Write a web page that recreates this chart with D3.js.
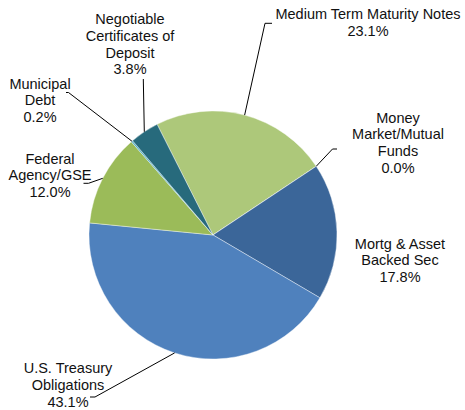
<!DOCTYPE html>
<html lang="en">
  <head>
    <meta charset="utf-8">
    <title>Portfolio pie</title>
    <script src="https://d3js.org/d3.v7.min.js"></script>
    <style>
      body { margin: 0; background: #fff; }
      text { font-family: "Liberation Sans", Arial, sans-serif; font-size: 14.5px; fill: #111; }
    </style>
  </head>
  <body>
    <svg id="pie"></svg>
    <script>
      // 1) data
      let categories = ["Medium Term Maturity Notes", "Money Market/Mutual Funds", "Mortg & Asset Backed Sec",
                        "U.S. Treasury Obligations", "Federal Agency/GSE", "Municipal Debt",
                        "Negotiable Certificates of Deposit"];
      let values = [23.1, 0.0, 17.8, 43.1, 12.0, 0.2, 3.8];
      let labelLines = [
        ["Medium Term Maturity Notes"],
        ["Money", "Market/Mutual", "Funds"],
        ["Mortg & Asset", "Backed Sec"],
        ["U.S. Treasury", "Obligations"],
        ["Federal", "Agency/GSE"],
        ["Municipal", "Debt"],
        ["Negotiable", "Certificates of", "Deposit"]
      ];
      let colors = ["#adc87a", "#3a6699", "#3b6699", "#4f81bd", "#9bbb59", "#4bacc6", "#276a7c"];

      // 2) layout vars
      let svgW = 465, svgH = 410, cx = 213, cy = 235, radius = 124;
      // label centre x, first line y, and leader elbow (null = no leader)
      let labelPos = [
        {x: 368, y: 14, elbow: [[265, 23.3], [272, 23.3]]},
        {x: 398, y: 117.5, elbow: [[332.5, 149], [337, 149]]},
        {x: 400, y: 243.5, elbow: null},
        {x: 68, y: 368, elbow: [[95, 397], [90, 397]]},
        {x: 50, y: 158.5, elbow: [[88.5, 183.3], [83.5, 183.3]]},
        {x: 40, y: 83.5, elbow: [[68.5, 92.5], [66, 92.5]]},
        {x: 130, y: 19, elbow: [[143.3, 79]]}
      ];
      let lineH = 16.8;

      let svg = d3.select("#pie").attr("width", svgW).attr("height", svgH);
      let g = svg.append("g").attr("transform", "translate(" + cx + "," + cy + ")");

      let startA = -26.8 * Math.PI / 180;
      let pie = d3.pie().sort(null).value(d => d)
                  .startAngle(startA).endAngle(startA + 2 * Math.PI);
      let arcs = pie(values);

      let path = d3.arc().outerRadius(radius).innerRadius(0);

      g.selectAll("path")
        .data(arcs)
        .enter()
        .append("path")
        .attr("d", path)
        .attr("fill", (d, i) => colors[i])
        .attr("stroke", "#fff")
        .attr("stroke-width", 0.4);

      // 3) leader lines from slice mid angle on the rim
      arcs.forEach(function(d, i) {
        let lp = labelPos[i];
        if (!lp.elbow) return;
        let a = (d.startAngle + d.endAngle) / 2;
        let p0 = [cx + radius * Math.sin(a), cy - radius * Math.cos(a)];
        let pts = [p0].concat(lp.elbow);
        svg.append("path")
          .attr("d", d3.line()(pts))
          .attr("fill", "none")
          .attr("stroke", "#000")
          .attr("stroke-width", 1);
      });

      // 4) labels
      arcs.forEach(function(d, i) {
        let lp = labelPos[i];
        let lines = labelLines[i].concat([values[i].toFixed(1) + "%"]);
        let t = svg.append("text")
          .attr("text-anchor", "middle")
          .attr("x", lp.x)
          .attr("y", lp.y);
        lines.forEach(function(s, k) {
          t.append("tspan")
            .attr("x", lp.x)
            .attr("y", lp.y + k * lineH)
            .attr("dy", "0.35em")
            .text(s);
        });
      });
    </script>
  </body>
</html>
